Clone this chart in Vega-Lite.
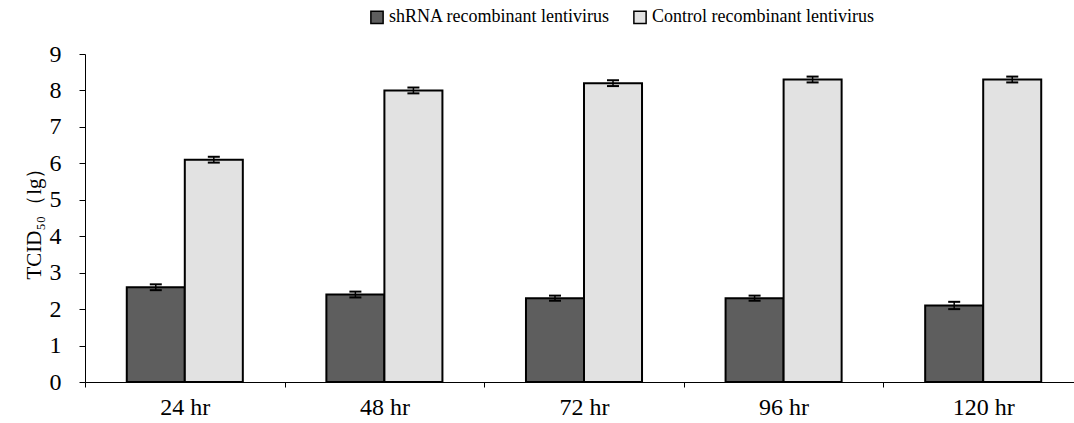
{
  "$schema": "https://vega.github.io/schema/vega-lite/v6.json",
  "width": 998,
  "height": 328,
  "autosize": {"type": "none"},
  "padding": {"left": 85, "top": 54, "right": 0, "bottom": 41},
  "background": "white",
  "config": {
    "font": "Liberation Serif",
    "view": {"stroke": null},
    "axisY": {
      "grid": false,
      "labelFontSize": 24,
      "labelColor": "black",
      "labelPadding": 18,
      "labelOverlap": false,
      "labelSeparation": 0,
      "domainColor": "black",
      "tickColor": "black",
      "tickSize": 6,
      "titleFont": "Liberation Serif",
      "titleFontSize": 21,
      "titleFontWeight": "normal",
      "titleColor": "black",
      "titlePadding": 5
    },
    "axisX": {
      "labelAngle": 0,
      "labelFontSize": 24,
      "labelColor": "black",
      "labelPadding": 8,
      "domainColor": "black",
      "tickColor": "black",
      "tickBand": "extent",
      "tickSize": 5
    }
  },
  "data": {
    "values": [
      {"time": "24 hr", "group": "shRNA recombinant lentivirus", "value": 2.6, "lo": 2.52, "hi": 2.68},
      {"time": "24 hr", "group": "Control recombinant lentivirus", "value": 6.1, "lo": 6.02, "hi": 6.18},
      {"time": "48 hr", "group": "shRNA recombinant lentivirus", "value": 2.4, "lo": 2.32, "hi": 2.48},
      {"time": "48 hr", "group": "Control recombinant lentivirus", "value": 8.0, "lo": 7.92, "hi": 8.08},
      {"time": "72 hr", "group": "shRNA recombinant lentivirus", "value": 2.3, "lo": 2.23, "hi": 2.37},
      {"time": "72 hr", "group": "Control recombinant lentivirus", "value": 8.2, "lo": 8.12, "hi": 8.28},
      {"time": "96 hr", "group": "shRNA recombinant lentivirus", "value": 2.3, "lo": 2.23, "hi": 2.37},
      {"time": "96 hr", "group": "Control recombinant lentivirus", "value": 8.3, "lo": 8.22, "hi": 8.38},
      {"time": "120 hr", "group": "shRNA recombinant lentivirus", "value": 2.1, "lo": 2.0, "hi": 2.2},
      {"time": "120 hr", "group": "Control recombinant lentivirus", "value": 8.3, "lo": 8.22, "hi": 8.38}
    ]
  },
  "encoding": {
    "x": {
      "field": "time",
      "type": "nominal",
      "sort": ["24 hr", "48 hr", "72 hr", "96 hr", "120 hr"],
      "scale": {"paddingInner": 0, "paddingOuter": 0},
      "axis": {"title": null}
    },
    "xOffset": {
      "field": "group",
      "type": "nominal",
      "sort": ["shRNA recombinant lentivirus", "Control recombinant lentivirus"],
      "scale": {"paddingInner": 0, "paddingOuter": 0.72}
    }
  },
  "resolve": {"axis": {"y": "shared"}},
  "layer": [
    {
      "mark": {"type": "bar", "stroke": "black", "strokeWidth": 2},
      "encoding": {
        "y": {
          "field": "value",
          "type": "quantitative",
          "scale": {"domain": [0, 9], "nice": false},
          "axis": {"title": "TCID₅₀（lg）", "values": [0, 1, 2, 3, 4, 5, 6, 7, 8, 9], "labelOverlap": false, "labelFontSize": 24}
        },
        "fill": {
          "field": "group",
          "type": "nominal",
          "sort": ["shRNA recombinant lentivirus", "Control recombinant lentivirus"],
          "scale": {"range": ["#5e5e5e", "#e2e2e2"]},
          "legend": {
            "title": null,
            "orient": "none",
            "direction": "horizontal",
            "legendX": 283,
            "legendY": -46,
            "symbolType": "square",
            "symbolSize": 150,
            "symbolStrokeColor": "black",
            "symbolStrokeWidth": 1.5,
            "labelFontSize": 18,
            "labelLimit": 500,
            "labelColor": "black",
            "columnPadding": 20,
            "labelOffset": 3
          }
        }
      }
    },
    {
      "mark": {"type": "rule", "color": "black", "strokeWidth": 1.5},
      "encoding": {
        "y": {"field": "lo", "type": "quantitative", "axis": {"title": "TCID₅₀（lg）", "values": [0, 1, 2, 3, 4, 5, 6, 7, 8, 9], "labelOverlap": false, "labelFontSize": 24}},
        "y2": {"field": "hi"}
      }
    },
    {
      "mark": {"type": "tick", "color": "black", "thickness": 2, "size": 12, "orient": "horizontal", "opacity": 1},
      "encoding": {"y": {"field": "hi", "type": "quantitative", "axis": {"title": "TCID₅₀（lg）", "values": [0, 1, 2, 3, 4, 5, 6, 7, 8, 9], "labelOverlap": false, "labelFontSize": 24}}}
    },
    {
      "mark": {"type": "tick", "color": "black", "thickness": 2, "size": 12, "orient": "horizontal", "opacity": 1},
      "encoding": {"y": {"field": "lo", "type": "quantitative", "axis": {"title": "TCID₅₀（lg）", "values": [0, 1, 2, 3, 4, 5, 6, 7, 8, 9], "labelOverlap": false, "labelFontSize": 24}}}
    }
  ]
}
